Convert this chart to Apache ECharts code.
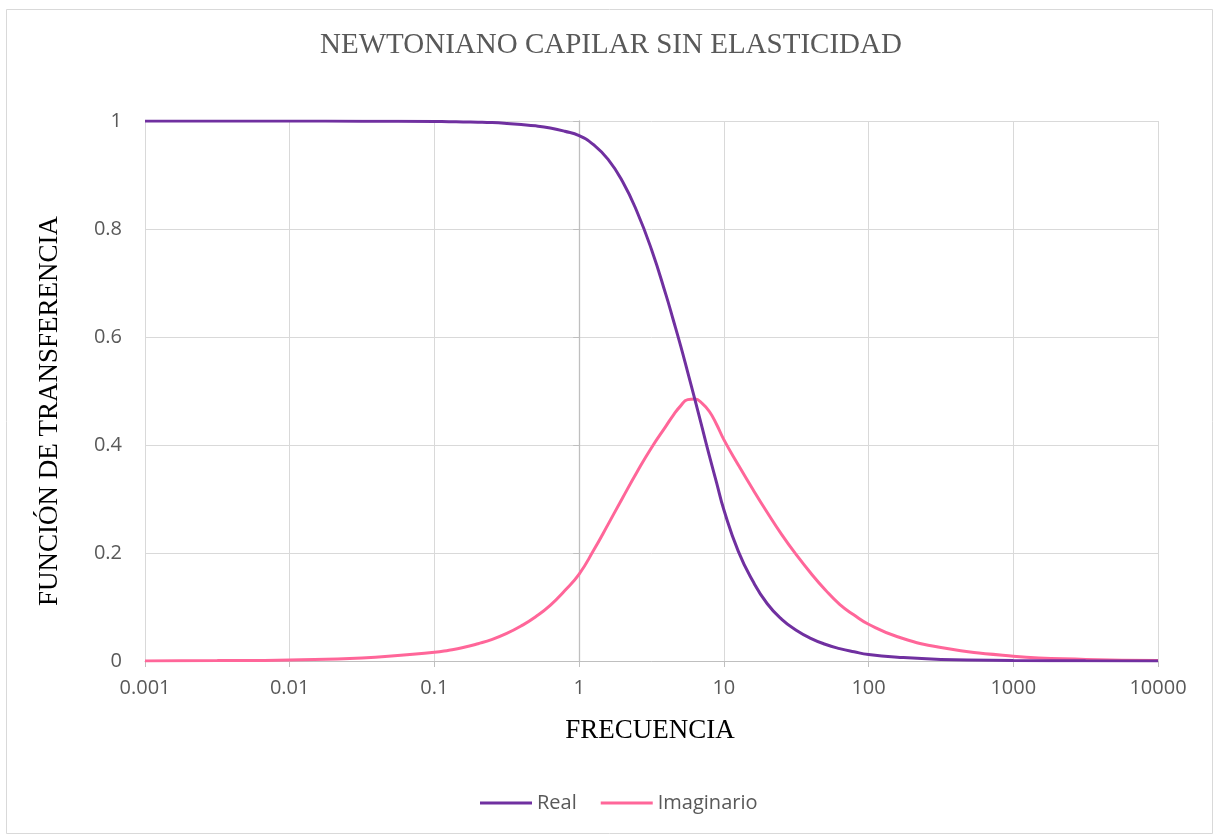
<!DOCTYPE html>
<html>
<head>
<meta charset="utf-8">
<script src="https://cdn.jsdelivr.net/npm/echarts@6/dist/echarts.min.js"></script>
<style>
html,body{margin:0;padding:0;background:#fff;}
#chart{width:1215px;height:836px;}
</style>
</head>
<body>
<div id="chart"></div>
<script>
const titleText = 'NEWTONIANO CAPILAR SIN ELASTICIDAD';
const xTitle = 'FRECUENCIA';
const yTitle = 'FUNCIÓN DE TRANSFERENCIA';
const seriesNames = ['Real', 'Imaginario'];
const xTickLabels = ['0.001', '0.01', '0.1', '1', '10', '100', '1000', '10000'];
const yTickLabels = ['0', '0.2', '0.4', '0.6', '0.8', '1'];

const frequency = [0.001, 0.00316, 0.01, 0.0316,
  0.1, 0.126, 0.158, 0.2, 0.251, 0.316, 0.398, 0.501, 0.631, 0.794,
  1, 1.259, 1.585, 1.995, 2.512, 3.162, 3.981, 4.467, 5.012, 5.623, 6.310, 7.079, 7.943, 8.913,
  10, 12.59, 15.85, 19.95, 25.12, 31.62, 39.81, 50.12, 63.10, 79.43,
  100, 158.5, 316.2, 1000, 3162, 10000];
const realValues = [1.000, 1.000, 1.000, 0.9997,
  0.999, 0.9987, 0.9983, 0.9978, 0.997, 0.9955, 0.9935, 0.991, 0.987, 0.981,
  0.973, 0.956, 0.929, 0.888, 0.832, 0.762, 0.678, 0.632, 0.585, 0.535, 0.484, 0.432, 0.380, 0.330,
  0.280, 0.203, 0.148, 0.106, 0.077, 0.057, 0.042, 0.031, 0.023, 0.017,
  0.012, 0.007, 0.003, 0.001, 0.0004, 0.0001];
const imagValues = [0.0002, 0.0007, 0.002, 0.0055,
  0.016, 0.020, 0.025, 0.032, 0.040, 0.051, 0.065, 0.082, 0.103, 0.130,
  0.161, 0.205, 0.253, 0.302, 0.350, 0.395, 0.435, 0.455, 0.472, 0.484, 0.485, 0.477, 0.462, 0.438,
  0.410, 0.363, 0.318, 0.275, 0.234, 0.197, 0.163, 0.132, 0.105, 0.085,
  0.068, 0.045, 0.025, 0.009, 0.003, 0.001];

const colors = ['#7030A0', '#FF6699'];
const W = 1215, H = 836;
const grid = {left: 145, right: 57, top: 121, bottom: 175};
const plotW = W - grid.left - grid.right;
const xMin = 0.001, xMax = 10000, yCross = 1;
const crossOffset = -plotW * (Math.log10(xMax) - Math.log10(yCross)) / (Math.log10(xMax) - Math.log10(xMin));

const chart = echarts.init(document.getElementById('chart'), null, {renderer: 'canvas'});
const tickFont = {fontFamily: 'Open Sans', fontSize: 20, color: '#595959'};

chart.setOption({
  backgroundColor: '#fff',
  animation: false,
  legend: {
    bottom: 18,
    left: 475,
    itemWidth: 52,
    itemHeight: 3,
    itemGap: 24,
    icon: 'rect',
    textStyle: {fontFamily: 'Open Sans', fontSize: 20, color: '#595959'},
    data: seriesNames
  },
  grid: {left: grid.left, right: grid.right, top: grid.top, bottom: grid.bottom, containLabel: false},
  xAxis: {
    type: 'log',
    logBase: 10,
    min: xMin,
    max: xMax,
    axisLine: {show: true, onZero: false, lineStyle: {color: '#bfbfbf', width: 1}},
    axisTick: {show: true, length: 6, lineStyle: {color: '#bfbfbf'}},
    splitLine: {show: true, lineStyle: {color: '#d9d9d9', width: 1}},
    axisLabel: Object.assign({
      margin: 17,
      formatter: function (v) {
        const i = Math.round(Math.log10(v) - Math.log10(xMin));
        return xTickLabels[i] !== undefined ? xTickLabels[i] : '';
      }
    }, tickFont)
  },
  yAxis: [{
    type: 'value',
    min: 0,
    max: 1,
    interval: 0.2,
    axisLine: {show: false},
    axisTick: {show: false},
    splitLine: {show: true, lineStyle: {color: '#d9d9d9', width: 1}},
    axisLabel: Object.assign({
      margin: 23,
      formatter: function (v) {
        const i = Math.round(v / 0.2);
        return yTickLabels[i] !== undefined ? yTickLabels[i] : '';
      }
    }, tickFont)
  }, {
    type: 'value',
    position: 'right',
    offset: crossOffset,
    min: 0,
    max: 1,
    interval: 0.2,
    axisLine: {show: true, lineStyle: {color: '#bfbfbf', width: 1.3}},
    axisTick: {show: true, inside: true, length: 6, lineStyle: {color: '#bfbfbf'}},
    axisLabel: {show: false},
    splitLine: {show: false}
  }],
  graphic: [
    {
      type: 'rect', left: 4, top: 7, silent: true, z: -1,
      shape: {width: W - 9, height: H - 12},
      style: {fill: 'none', stroke: '#d9d9d9', lineWidth: 1}
    },
    {
      type: 'text', x: 611, y: 45, silent: true,
      style: {text: titleText, fontFamily: 'Liberation Serif', fontSize: 29, fill: '#595959',
        textAlign: 'center', textVerticalAlign: 'middle'}
    },
    {
      type: 'text', x: 650, y: 731, silent: true,
      style: {text: xTitle, fontFamily: 'Liberation Serif', fontSize: 27, fill: '#000',
        textAlign: 'center', textVerticalAlign: 'middle'}
    },
    {
      type: 'text', rotation: Math.PI / 2, x: 50, y: 411, silent: true,
      style: {text: yTitle, fontFamily: 'Liberation Serif', fontSize: 27, fill: '#000',
        textAlign: 'center', textVerticalAlign: 'middle'}
    }
  ],
  series: [
    {
      name: seriesNames[0],
      type: 'line',
      data: frequency.map((f, i) => [f, realValues[i]]),
      smooth: 0.5,
      symbol: 'none',
      lineStyle: {color: colors[0], width: 3},
      itemStyle: {color: colors[0]},
      z: 3
    },
    {
      name: seriesNames[1],
      type: 'line',
      data: frequency.map((f, i) => [f, imagValues[i]]),
      smooth: 0.5,
      symbol: 'none',
      lineStyle: {color: colors[1], width: 3},
      itemStyle: {color: colors[1]},
      z: 2
    }
  ]
});
</script>
</body>
</html>
